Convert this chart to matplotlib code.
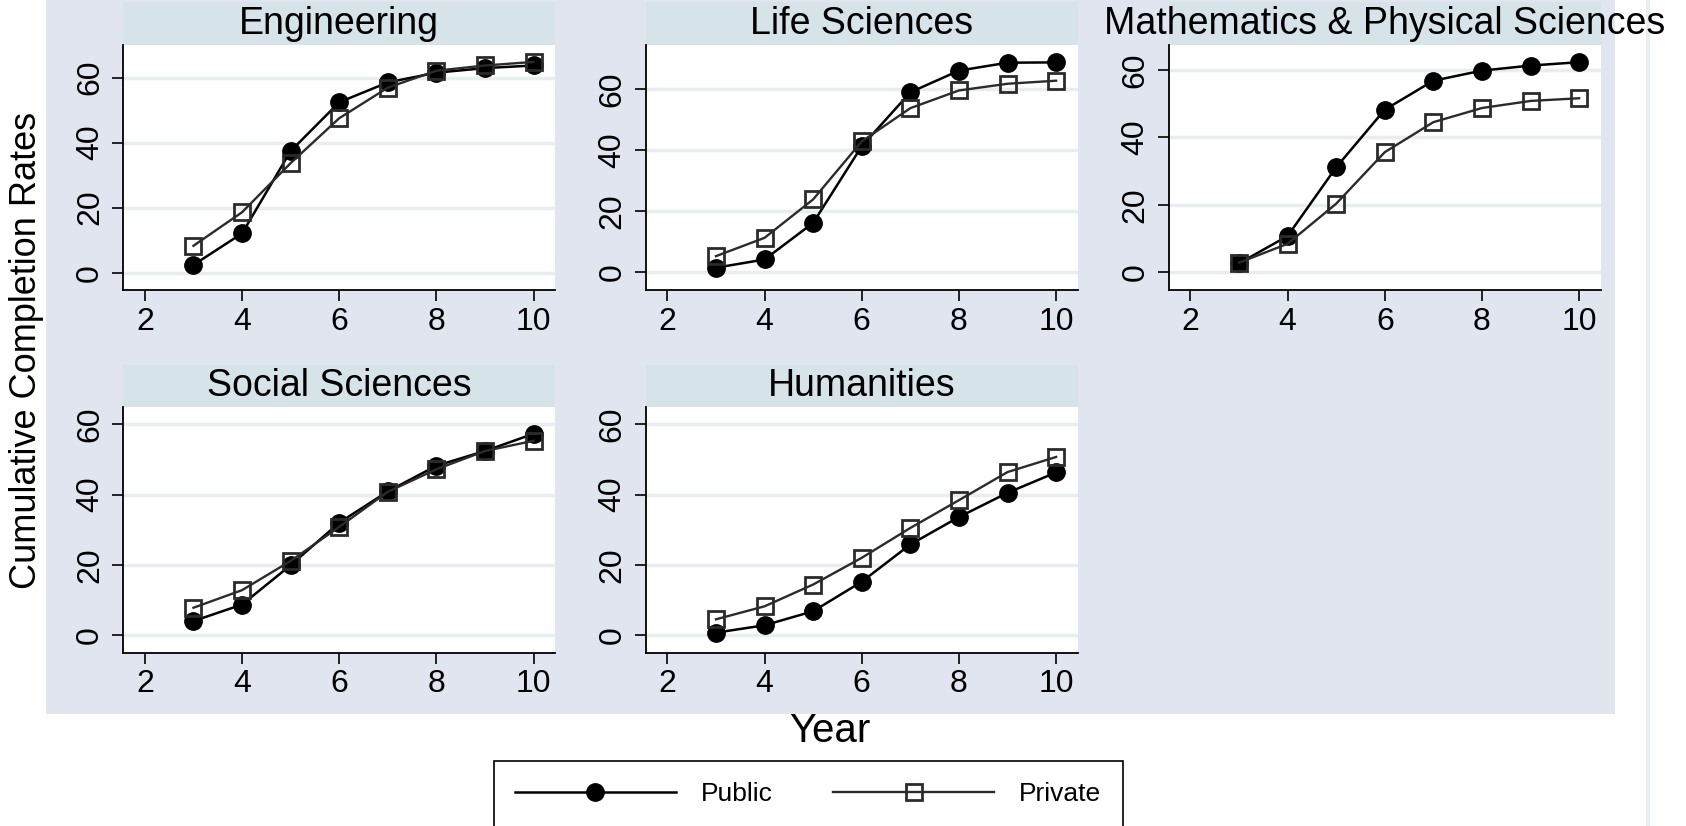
import matplotlib
matplotlib.use("Agg")
from matplotlib import pyplot as plt
from matplotlib.lines import Line2D
from matplotlib.patches import Rectangle

plt.rcParams['font.family'] = ['Liberation Sans', 'DejaVu Sans']

W, H = 1686, 826

years = [3, 4, 5, 6, 7, 8, 9, 10]
fields = ['Engineering', 'Life Sciences', 'Mathematics & Physical Sciences',
          'Social Sciences', 'Humanities']

# cumulative completion rates (%)
public_eng = [2.4, 12.1, 37.4, 52.4, 58.5, 61.5, 62.9, 63.7]
private_eng = [8.3, 18.6, 33.7, 47.5, 56.9, 62.1, 63.7, 64.8]
public_life = [1.4, 4.1, 16.1, 41.2, 58.9, 66.0, 68.6, 68.7]
private_life = [5.2, 11.2, 23.8, 42.8, 53.7, 59.5, 61.7, 62.7]
public_math = [2.6, 10.7, 31.1, 48.2, 56.8, 59.8, 61.3, 62.3]
private_math = [2.8, 8.4, 20.3, 35.6, 44.5, 48.7, 50.8, 51.6]
public_soc = [4.0, 8.7, 19.9, 32.0, 40.9, 48.2, 52.4, 57.3]
private_soc = [7.8, 12.8, 21.1, 30.8, 40.8, 47.2, 52.4, 55.3]
public_hum = [0.7, 2.8, 6.8, 15.2, 25.8, 33.6, 40.5, 46.3]
private_hum = [4.5, 8.2, 14.4, 22.0, 30.5, 38.4, 46.4, 50.7]

public = [public_eng, public_life, public_math, public_soc, public_hum]
private = [private_eng, private_life, private_math, private_soc, private_hum]

xticks = [2, 4, 6, 8, 10]
yticks = [0, 20, 40, 60]

# panel layout in pixels: (strip top, plot top, plot bottom) per row
col_left = [123, 645.5, 1168.5]
panel_w = 432.5
rows = [(2, 45, 290), (365, 406.7, 652.7)]
ylims = [(-5.3, 70), (-5.9, 74.4), (-5.3, 67.4), (-5.0, 65), (-5.0, 65)]

lavender = '#e0e5ef'
strip_col = '#d6e3e9'
grid_col = '#e6eef1'


def frac(x0, y_top, w, h):
    return [x0 / W, 1 - (y_top + h) / H, w / W, h / H]


fig = plt.figure(figsize=(W / 100, H / 100), dpi=100)
fig.patch.set_facecolor('white')
fig.patches.append(Rectangle((46 / W, 1 - 714 / H), (1615 - 46) / W, 714 / H,
                             transform=fig.transFigure, facecolor=lavender,
                             edgecolor='none', zorder=-10))
fig.add_artist(Line2D([1648 / W, 1648 / W], [0, 1], transform=fig.transFigure,
                      color='#e8eff2', lw=3, zorder=-5))

for i, name in enumerate(fields):
    r, c = divmod(i, 3)
    s_top, p_top, p_bot = rows[r]
    left = col_left[c]

    # title strip
    sax = fig.add_axes(frac(left, s_top, panel_w, p_top - s_top))
    sax.set_facecolor(strip_col)
    sax.set_xticks([])
    sax.set_yticks([])
    for sp in sax.spines.values():
        sp.set_visible(False)
    sax.text(0.5, 0.5, name, ha='center', va='center', fontsize=27,
             transform=sax.transAxes, clip_on=False)

    ax = fig.add_axes(frac(left, p_top, panel_w, p_bot - p_top))
    ax.set_facecolor('white')
    ax.plot(years, public[i], color='black', lw=1.8, marker='o', ms=12.5,
            mfc='black', mec='black', zorder=3)
    ax.plot(years, private[i], color='#2b2b2b', lw=1.7, marker='s', ms=11,
            mfc='none', mec='#2b2b2b', mew=2, zorder=4)
    ax.set_xlim(1.55, 10.45)
    ax.set_ylim(*ylims[i])
    ax.set_xticks(xticks)
    ax.set_yticks(yticks)
    ax.yaxis.grid(True, color=grid_col, lw=2.5)
    ax.set_axisbelow(True)
    for sp in ['top', 'right']:
        ax.spines[sp].set_visible(False)
    for sp in ['left', 'bottom']:
        ax.spines[sp].set_linewidth(1.3)
    ax.tick_params(length=8, width=1.2, labelsize=23, direction='out')
    ax.tick_params(axis='x', pad=4)
    ax.tick_params(axis='y', pad=5, labelrotation=90)
    for lab in ax.get_yticklabels():
        lab.set_va('center')

fig.text(27 / W, 1 - 350 / H, 'Cumulative Completion Rates', rotation=90,
         ha='center', va='center', fontsize=26)
fig.text(830 / W, 1 - 731 / H, 'Year', ha='center', va='center', fontsize=29)

handles = [Line2D([], [], color='black', lw=1.8, marker='o', ms=12.5,
                  mfc='black', mec='black'),
           Line2D([], [], color='#2b2b2b', lw=1.7, marker='s', ms=11,
                  mfc='none', mec='#2b2b2b', mew=2)]
leg = fig.legend(handles, ['Public', 'Private'], loc='upper center',
                 bbox_to_anchor=(808 / W, 1 - 761 / H), ncol=2, fontsize=19,
                 frameon=True, fancybox=False, edgecolor='black',
                 handlelength=6.1, handletextpad=0.95, columnspacing=2.3,
                 borderpad=0.8, borderaxespad=0, framealpha=1)
leg.get_frame().set_linewidth(1.2)

fig.savefig('out.png', dpi=100, facecolor='white')
